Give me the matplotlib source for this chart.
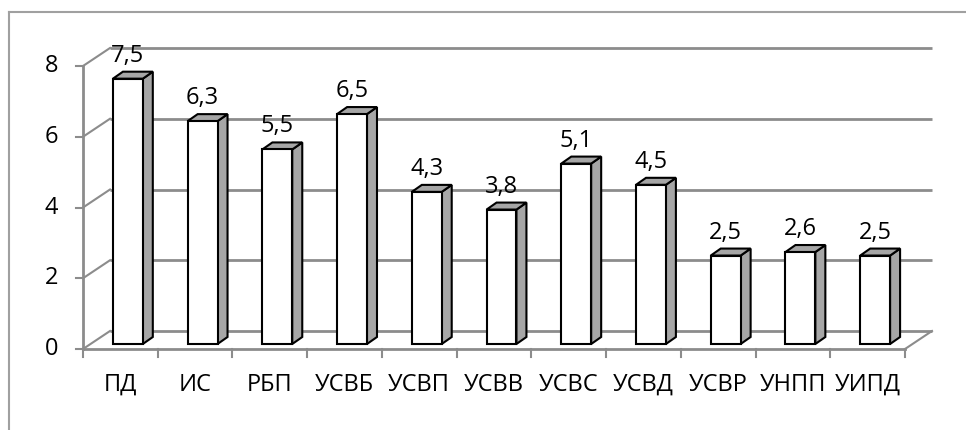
import matplotlib
matplotlib.use("Agg")
from matplotlib import pyplot as plt
from matplotlib.patches import Polygon
from matplotlib import transforms

plt.rcParams["font.family"] = ["Open Sans", "DejaVu Sans"]

categories = ["ПД", "ИС", "РБП", "УСВБ", "УСВП", "УСВВ", "УСВС", "УСВД", "УСВР", "УНПП", "УИПД"]
values = [7.5, 6.3, 5.5, 6.5, 4.3, 3.8, 5.1, 4.5, 2.5, 2.6, 2.5]
labels = ["7,5", "6,3", "5,5", "6,5", "4,3", "3,8", "5,1", "4,5", "2,5", "2,6", "2,5"]
yticks = [0, 2, 4, 6, 8]

W, H = 966, 430
fig = plt.figure(figsize=(W / 100, H / 100), dpi=100)
# front plane of the 3d box in pixels
x0, x1, y0, y1 = 83, 905, 349, 66
ax = fig.add_axes([x0 / W, (H - y0) / H, (x1 - x0) / W, (y0 - y1) / H])
n = len(categories)
ax.set_xlim(0, n)
ax.set_ylim(0, 8)
ax.axis("off")

px = (x1 - x0) / n      # pixels per category
py = (y0 - y1) / 8      # pixels per unit
back = transforms.offset_copy(ax.transData, fig, x=27, y=18, units="dots")
grid_c = "#8c8c8c"
fs = 17

# back wall gridlines + left wall diagonals
for t in yticks:
    ax.plot([0, n], [t, t], color=grid_c, lw=2, transform=back, clip_on=False,
            solid_capstyle="butt", zorder=1)
    ax.plot([0, 27 / px], [t, t + 18 / py], color=grid_c, lw=1.5, clip_on=False, zorder=1)
    ax.plot([-7 / px, 0], [t, t], color=grid_c, lw=1.5, clip_on=False, zorder=1)
    ax.text(-25 / px, t, str(t), ha="right", va="center", fontsize=fs, clip_on=False)

# floor front edge, right diagonal, y axis
ax.plot([0, n], [0, 0], color=grid_c, lw=2, clip_on=False, zorder=1)
ax.plot([n, n + 27 / px], [0, 18 / py], color=grid_c, lw=1.5, clip_on=False, zorder=1)
ax.plot([0, 0], [0, 8], color=grid_c, lw=2, clip_on=False, zorder=1)
for i in range(n + 1):
    ax.plot([i, i], [0, -8 / py], color=grid_c, lw=1.5, clip_on=False, zorder=1)

# bars
bw = 0.40
ox, oy = 7.5 / px, 5 / py      # bar sits in middle of depth
dx, dy = 10 / px, 7 / py       # bar depth
for i, v in enumerate(values):
    xl = i + 0.5 - bw / 2 + ox
    xr = xl + bw
    yb = oy
    yt = v + oy
    side = Polygon([(xr, yb), (xr + dx, yb + dy), (xr + dx, yt + dy), (xr, yt)],
                   closed=True, fc="#a6a6a6", ec="black", lw=1.5, clip_on=False,
                   joinstyle="miter", zorder=3)
    top = Polygon([(xl, yt), (xl + dx, yt + dy), (xr + dx, yt + dy), (xr, yt)],
                  closed=True, fc="#a6a6a6", ec="black", lw=1.5, clip_on=False,
                  joinstyle="miter", zorder=3)
    front = Polygon([(xl, yb), (xr, yb), (xr, yt), (xl, yt)],
                    closed=True, fc="white", ec="black", lw=1.5, clip_on=False,
                    joinstyle="miter", zorder=4)
    ax.add_patch(side)
    ax.add_patch(top)
    ax.add_patch(front)
    ax.text(i + 0.5 + ox, yt + dy + 16 / py, labels[i], ha="center", va="center",
            fontsize=fs, clip_on=False, zorder=5)
    ax.text(i + 0.5, -36 / py, categories[i], ha="center", va="center",
            fontsize=fs, clip_on=False)

# chart frame (top and left visible)
fig.add_artist(plt.Line2D([9 / W, 9 / W], [0, (H - 12) / H], color="#a0a0a0", lw=1.5))
fig.add_artist(plt.Line2D([9 / W, 1], [(H - 12) / H, (H - 12) / H], color="#a0a0a0", lw=1.5))

fig.savefig("out.png", dpi=100)
